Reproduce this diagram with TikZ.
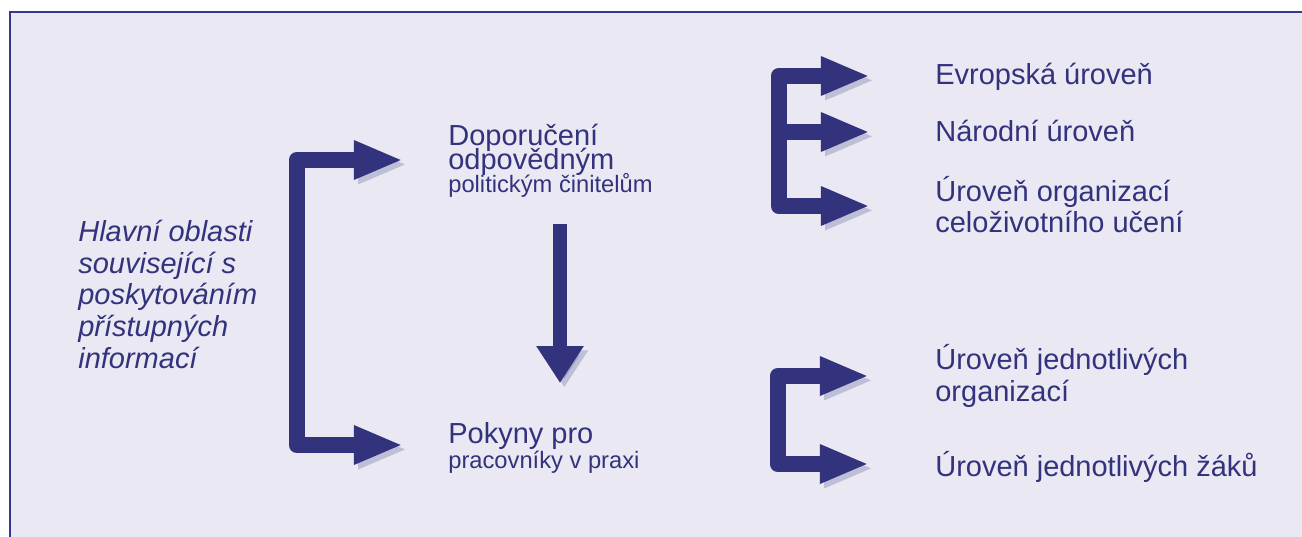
\documentclass[tikz,border=0pt]{standalone}
\usepackage{fontspec}
\setmainfont{Liberation Sans}
\usetikzlibrary{arrows.meta}
\definecolor{deepnavy}{RGB}{50,50,125}
\definecolor{framenavy}{RGB}{55,55,145}
\definecolor{panelgrey}{RGB}{233,232,243}
\newcommand\tightskip{\lineskiplimit-20pt\relax}

\begin{document}
\begin{tikzpicture}[x=0.02cm, y=-0.02cm,
    big/.style={font=\fontsize{16.5}{18.1}\selectfont},
    label/.style={text=deepnavy, inner sep=0pt, anchor=base west, align=left},
    shadowed/.style={preaction={draw=deepnavy!70, opacity=0.35, transform canvas={shift={(2.5pt,-2.5pt)}}}},
    bracket/.style={draw=deepnavy, line width=9.6pt, line join=round, shadowed},
    head/.tip={Triangle[length=28pt, width=20.4pt]},
    downhead/.tip={Triangle[length=21pt, width=25.5pt]}]
\clip (0,0) rectangle (1302,537);
\fill[white] (0,0) rectangle (1302,537);
\draw[framenavy, fill=panelgrey, line width=1.7pt] (10,12) rectangle (1340,580);

% texts (anchored at the baseline of the last line)
\node[label, big, font=\fontsize{16.5}{18}\selectfont\itshape] (main) at (78,368)
  {Hlavní oblasti\\související s\\poskytováním\\přístupných\\informací};
\node[label, font=\fontsize{16.5}{13.6}\selectfont\tightskip] (dop) at (448,193)
  {Doporučení\\odpovědným\\{\fontsize{13.5}{13.6}\selectfont politickým činitelům}};
\node[label, font=\fontsize{16.5}{14.2}\selectfont\tightskip] (pok) at (448,468)
  {Pokyny pro\\{\fontsize{13.5}{14.2}\selectfont pracovníky v praxi}};
\node[label, big] (evr) at (935,85) {Evropská úroveň};
\node[label, big] (nar) at (935,142) {Národní úroveň};
\node[label, big] (cel) at (935,233) {Úroveň organizací\\celoživotního učení};
\node[label, big] (org) at (935,401) {Úroveň jednotlivých\\organizací};
\node[label, big] (zak) at (935,476) {Úroveň jednotlivých žáků};

% arrow ends
\coordinate (dopin) at (403,160);
\coordinate (pokin) at (403,445);
\coordinate (evrin) at (870,76);
\coordinate (narin) at (870,132);
\coordinate (celin) at (870,206);
\coordinate (orgin) at (869,376);
\coordinate (zakin) at (869,464);
\coordinate (dtop) at (560,224);
\coordinate (dbot) at (560,383);

% brackets
\draw[bracket, head-head] (dopin) -- (297,160) -- (297,445) -- (pokin);
\draw[bracket, head-head] (evrin) -- (779,76) -- (779,206) -- (celin);
\draw[bracket, -head] (779,132) -- (narin);
\draw[bracket, head-head] (orgin) -- (778,376) -- (778,464) -- (zakin);
\draw[draw=deepnavy, line width=8.5pt, shadowed, -downhead] (dtop) -- (dbot);
\end{tikzpicture}
\end{document}
